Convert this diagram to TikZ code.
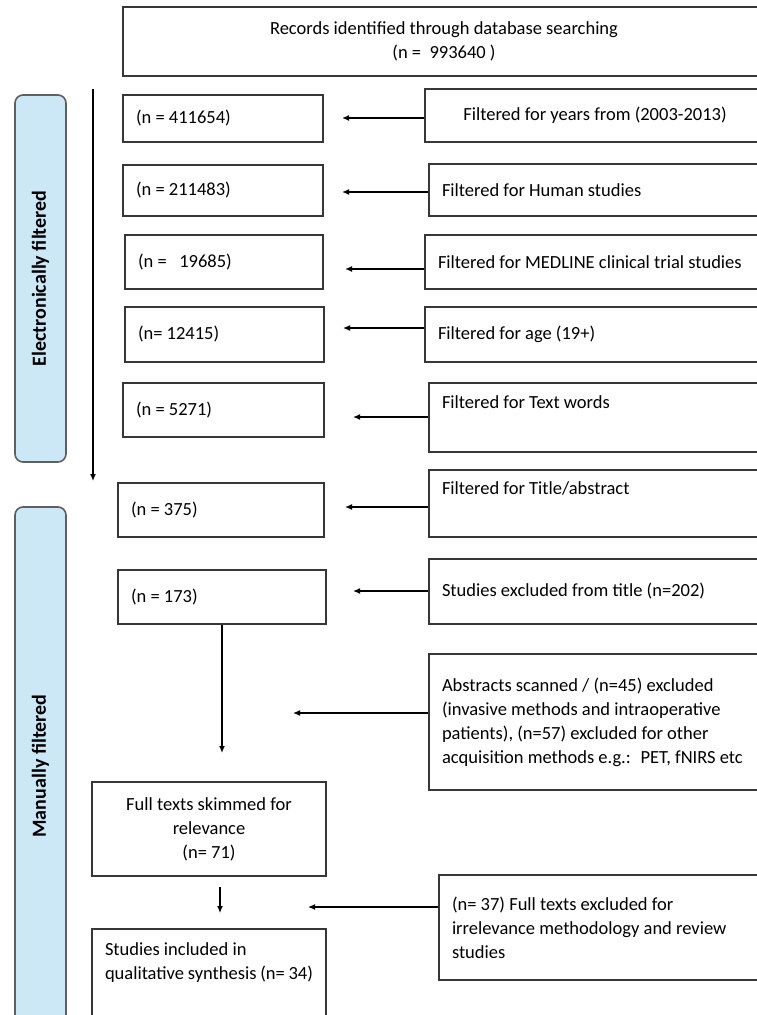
\documentclass[tikz,border=0pt]{standalone}
\usepackage{fontspec}
\setmainfont{Carlito}
\usetikzlibrary{arrows.meta}
\definecolor{sidefill}{RGB}{204,232,246}
\definecolor{boxline}{RGB}{55,55,55}
\begin{document}
\begin{tikzpicture}[x=1pt,y=-1pt,
  box/.style={draw=boxline, line width=1.7pt, fill=white, inner sep=0pt,
    font=\fontsize{18.5}{24}\selectfont},
  lbox/.style={box, align=flush left, inner xsep=13pt},
  cbox/.style={box, align=flush center},
  arr/.style={-{Latex[length=7pt,width=6pt]}, line width=1.3pt, black},
  side/.style={draw=boxline!80, line width=1.6pt, fill=sidefill, rounded corners=8pt,
    rotate=90, inner sep=0pt, font=\fontsize{20}{24}\selectfont\bfseries}]
\useasboundingbox (0,0) rectangle (757,1015);
\clip (0,0) rectangle (757,1015);

% side bars
\node[side, minimum width=367pt, minimum height=51pt] (elec) at (40.5,278.5) {Electronically filtered};
\node[side, minimum width=518pt, minimum height=51pt] (man) at (40.5,766) {Manually filtered};

% top box
\node[cbox, minimum width=642pt, minimum height=69pt] (top) at (444,41.5)
  {Records identified through database searching\\(n =~ 993640 )};

% left column
\node[lbox, minimum width=200pt, minimum height=47pt, text width=174pt] (b1) at (223,118.5) {(n = 411654)};
\node[lbox, minimum width=200pt, minimum height=51pt, text width=174pt] (b2) at (223,190.5) {(n = 211483)};
\node[lbox, minimum width=198pt, minimum height=54pt, text width=172pt] (b3) at (224,262) {(n = \ \ 19685)};
\node[lbox, minimum width=199pt, minimum height=55pt, text width=173pt] (b4) at (224.5,334.5) {(n= 12415)};
\node[lbox, minimum width=201pt, minimum height=54pt, text width=175pt] (b5) at (223.5,410) {(n = 5271)};
\node[lbox, minimum width=206pt, minimum height=54pt, text width=180pt] (b6) at (221,510) {(n = 375)};
\node[lbox, minimum width=208pt, minimum height=54pt, text width=182pt] (b7) at (222,597) {(n = 173)};
\node[cbox, minimum width=234pt, minimum height=94pt, text width=220pt] (b8) at (209,829)
  {Full texts skimmed for\\relevance\\(n= 71)};
\node[lbox, minimum width=234pt, minimum height=96pt, text width=208pt] (b9) at (209,977)
  {Studies included in\\qualitative synthesis (n= 34)\\\strut};

% right column
\node[cbox, minimum width=340pt, minimum height=53pt, text width=330pt] (r1) at (595,115.5) {Filtered for years from (2003-2013)};
\node[lbox, minimum width=336pt, minimum height=52pt, text width=310pt] (r2) at (597,190) {Filtered for Human studies};
\node[lbox, minimum width=340pt, minimum height=54pt, text width=314pt] (r3) at (595,262) {Filtered for MEDLINE clinical trial studies};
\node[lbox, minimum width=340pt, minimum height=55pt, text width=314pt] (r4) at (595,334.5) {Filtered for age (19+)};
\node[lbox, minimum width=336pt, minimum height=69pt, text width=310pt] (r5) at (597,417.5) {Filtered for Text words\\\strut};
\node[lbox, minimum width=336pt, minimum height=67pt, text width=310pt] (r6) at (597,503.5) {Filtered for Title/abstract\\\strut};
\node[lbox, minimum width=336pt, minimum height=65pt, text width=310pt] (r7) at (597,591.5) {Studies excluded from title (n=202)};
\node[lbox, minimum width=336pt, minimum height=136pt, text width=310pt] (r8) at (597,722)
  {Abstracts scanned / (n=45) excluded\\(invasive methods and intraoperative\\patients), (n=57) excluded for other\\acquisition methods e.g.:~ PET, fNIRS etc};
\node[lbox, minimum width=326pt, minimum height=105pt, text width=300pt] (r9) at (602,927.5)
  {(n= 37) Full texts excluded for\\irrelevance methodology and review\\studies};

% arrow end points
\coordinate (t1) at (342,118);
\coordinate (t2) at (342,192);
\coordinate (t3) at (345,269);
\coordinate (t4) at (343,328);
\coordinate (t5) at (353,417);
\coordinate (t6) at (345,507);
\coordinate (t7) at (353,591);
\coordinate (t8) at (293,713);
\coordinate (t9) at (308,907);
\coordinate (ls) at (93,89);
\coordinate (le) at (93,481);
\coordinate (t10) at (222,753);
\coordinate (s11) at (220,887);
\coordinate (t11) at (220,913);

\draw[arr] (r1.west |- t1) -- (t1);
\draw[arr] (r2.west |- t2) -- (t2);
\draw[arr] (r3.west |- t3) -- (t3);
\draw[arr] (r4.west |- t4) -- (t4);
\draw[arr] (r5.west |- t5) -- (t5);
\draw[arr] (r6.west |- t6) -- (t6);
\draw[arr] (r7.west |- t7) -- (t7);
\draw[arr] (r8.west |- t8) -- (t8);
\draw[arr] (r9.west |- t9) -- (t9);

\draw[arr] (ls) -- (le);
\draw[arr] (b7.south) -- (t10);
\draw[arr] (s11) -- (t11);
\end{tikzpicture}
\end{document}
